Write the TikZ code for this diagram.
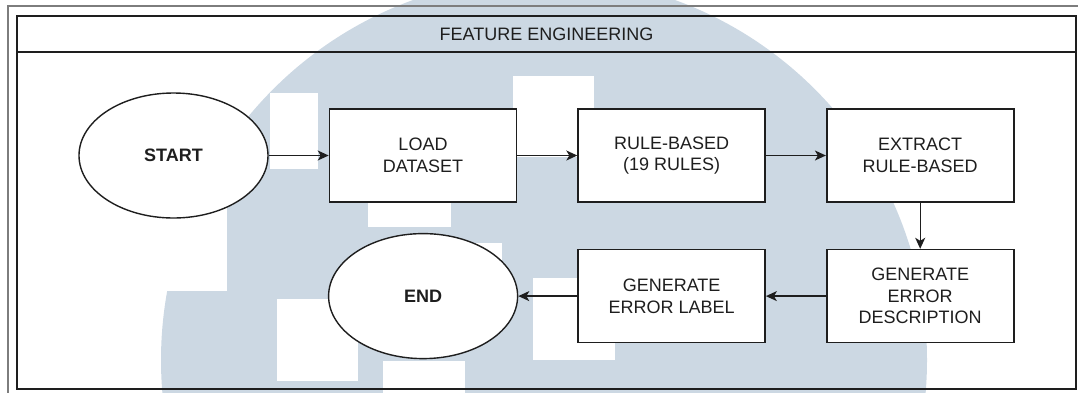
\documentclass[tikz,border=0pt]{standalone}
\usepackage{fontspec}
\setmainfont{Liberation Sans}
\usetikzlibrary{positioning,shapes.geometric,arrows.meta}
\definecolor{wmblue}{RGB}{204,216,227}
\definecolor{rimgray}{RGB}{125,125,125}
\definecolor{ink}{RGB}{30,30,30}

\begin{document}
\begin{tikzpicture}[x=1pt,y=-1pt,
    terminal/.style={ellipse,draw=ink,fill=white,line width=1.4pt,
        minimum width=189pt,minimum height=125pt,
        font=\fontsize{18}{21}\selectfont\bfseries},
    process/.style={rectangle,draw=ink,fill=white,line width=1.6pt,
        minimum width=187pt,minimum height=93pt,align=center},
    flow/.style={draw=ink,line width=1.4pt,
        -{Stealth[length=11pt,width=10pt,inset=3pt]}}]
\tikzset{every node/.style={font=\fontsize{18}{21.5}\selectfont,text=ink}}
%\tikzset{every node/.style={font=\sffamily\large}}
\useasboundingbox (0,0) rectangle (1078,392);

% logo in the background
\begin{scope}
    \clip (0,0) rectangle (1078,392);
    \fill[wmblue] (544,360) circle (383);
    \fill[white] (0,0) rectangle (227,291);
    \foreach \xa/\ya/\xb/\yb in {270/93/318/169, 513/76/594/157,
            368/190/451/227, 430/243/502/290, 533/278/615/360,
            383/361/465/400, 277/299/358/381}
        \fill[white] (\xa,\ya) rectangle (\xb,\yb);
\end{scope}

% frames
\draw[rimgray,line width=2.2pt] (8,400) -- (8,6) -- (1090,6);
\draw[ink,line width=1.6pt] (17,16) rectangle (1076,389);
\draw[ink,line width=1.6pt] (17,52) -- (1076,52);
\node (title) at (546.5,34.5) {FEATURE ENGINEERING};

\node[terminal] (start) at (173.5,155.5) {START};
\node[process, right=60pt of start] (load) {LOAD\\DATASET};
\node[process, right=60pt of load] (rules) {RULE-BASED\\(19 RULES)};
\node[process, right=60pt of rules] (extract) {EXTRACT\\RULE-BASED};
\node[process, below=46pt of extract] (errdesc) {GENERATE\\ERROR\\DESCRIPTION};
\node[process, left=60pt of errdesc] (errlabel) {GENERATE\\ERROR LABEL};
\node[terminal, left=59pt of errlabel] (end) {END};

\draw[flow] (start) -- (load);
\draw[flow] (load) -- (rules);
\draw[flow] (rules) -- (extract);
\draw[flow] (extract) -- (errdesc);
\draw[flow] (errdesc) -- (errlabel);
\draw[flow] (errlabel) -- (end);
\end{tikzpicture}
\end{document}
